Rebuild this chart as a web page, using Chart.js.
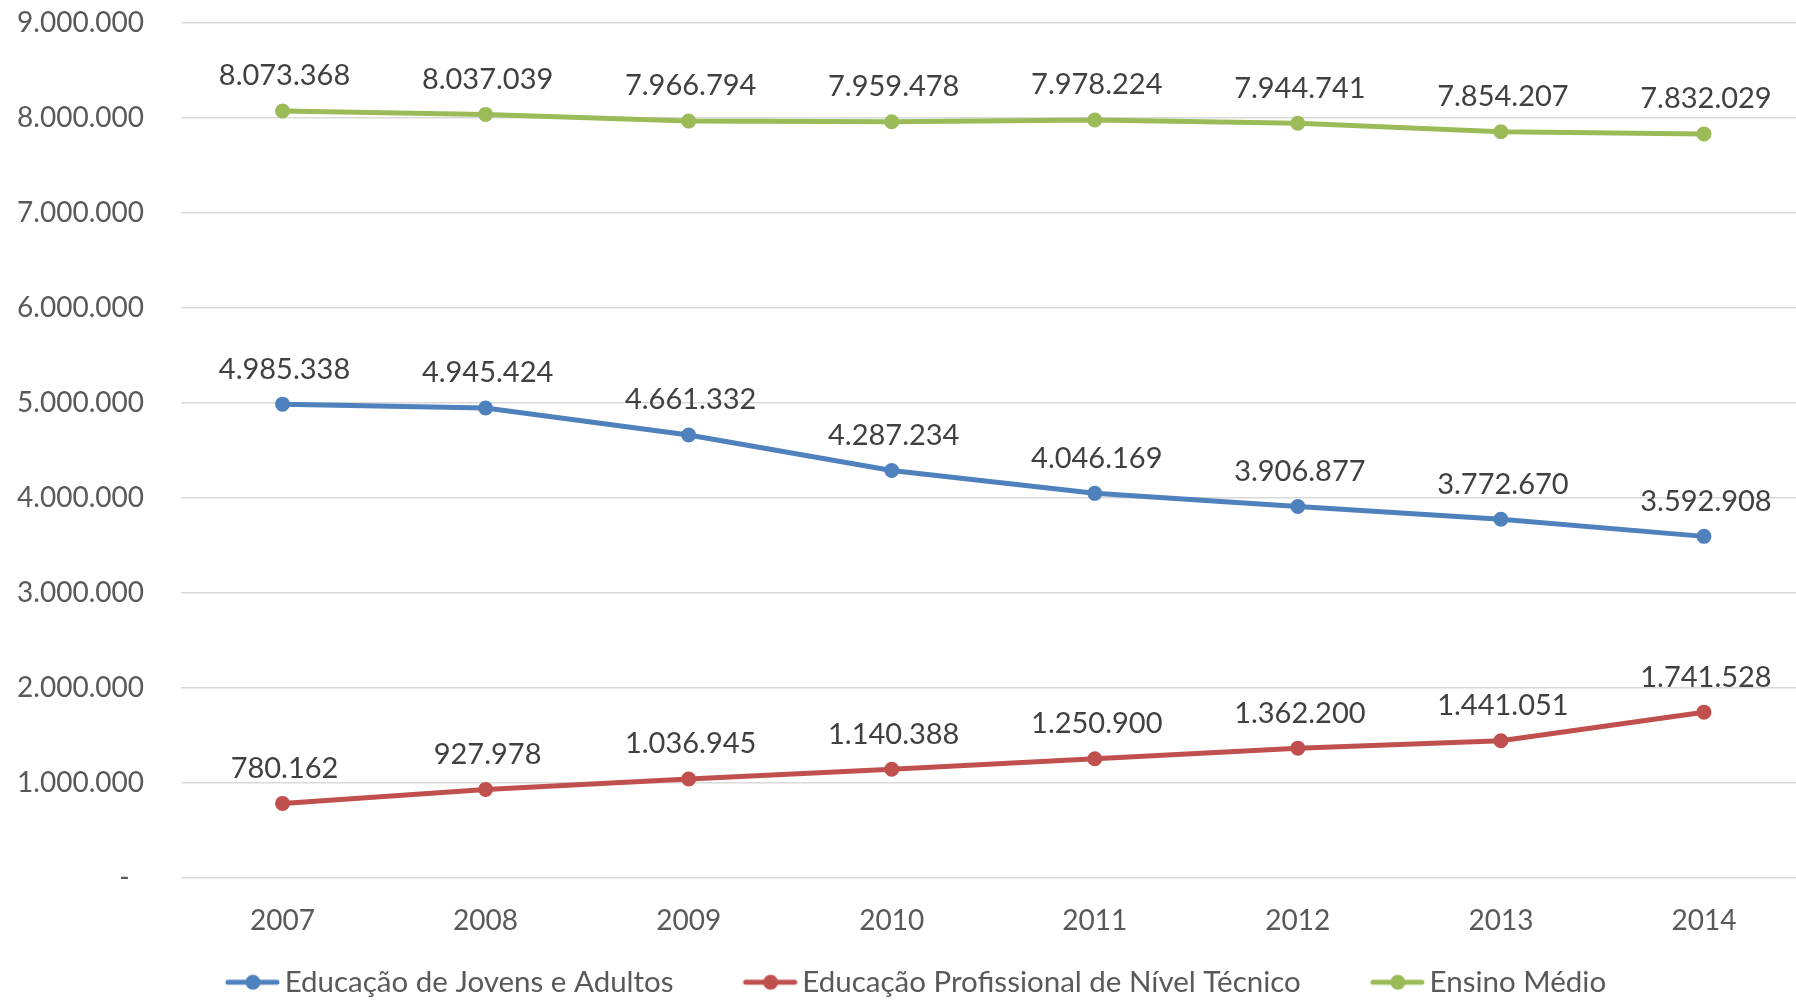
<!DOCTYPE html>
<html>
<head>
<meta charset="utf-8">
<script src="https://cdn.jsdelivr.net/npm/chart.js@4"></script>
<style>
    html, body { margin: 0; padding: 0; background: #fff; overflow: hidden; }
    #wrap { position: relative; width: 1796px; height: 1000px; overflow: hidden; }
    #chart { position: absolute; left: -48px; top: 0; }
</style>
</head>
<body>
<div id="wrap"><canvas id="chart" width="1862" height="1000"></canvas></div>
<script>
var years = ["2007", "2008", "2009", "2010", "2011", "2012", "2013", "2014"];
var jovensAdultos = [4985338, 4945424, 4661332, 4287234, 4046169, 3906877, 3772670, 3592908];
var profissionalTecnico = [780162, 927978, 1036945, 1140388, 1250900, 1362200, 1441051, 1741528];
var ensinoMedio = [8073368, 8037039, 7966794, 7959478, 7978224, 7944741, 7854207, 7832029];
var seriesNames = ["Educação de Jovens e Adultos", "Educação Profissional de Nível Técnico", "Ensino Médio"];
var seriesColors = ["#4f81bd", "#c0504d", "#9bbb59"];

function formatNumber(v) {
    return String(Math.round(v)).replace(/\B(?=(\d{3})+(?!\d))/g, ".");
}

// line + dot marker for the legend, padded on the left so items sit apart
function legendIcon(color) {
    var c = document.createElement("canvas");
    c.width = 130;
    c.height = 18;
    var ctx = c.getContext("2d");
    ctx.strokeStyle = color;
    ctx.lineWidth = 5;
    ctx.lineCap = "round";
    ctx.beginPath();
    ctx.moveTo(c.width - 52, 9);
    ctx.lineTo(c.width - 3, 9);
    ctx.stroke();
    ctx.fillStyle = color;
    ctx.beginPath();
    ctx.arc(c.width - 27, 9, 7.5, 0, Math.PI * 2);
    ctx.fill();
    return c;
}

var valueLabels = {
    id: "valueLabels",
    afterDatasetsDraw: function (chart) {
        var ctx = chart.ctx;
        ctx.save();
        ctx.font = "29px Lato";
        ctx.fillStyle = "#404040";
        ctx.textAlign = "center";
        ctx.textBaseline = "middle";
        chart.data.datasets.forEach(function (ds, i) {
            chart.getDatasetMeta(i).data.forEach(function (pt, j) {
                ctx.fillText(formatNumber(ds.data[j]), pt.x + 2, pt.y - 35);
            });
        });
        ctx.restore();
    }
};

function makeDataset(label, data, color) {
    return {
        label: label,
        data: data,
        borderColor: color,
        backgroundColor: color,
        borderWidth: 5,
        pointRadius: 6.5,
        pointBorderWidth: 2,
        pointBackgroundColor: color,
        pointBorderColor: color,
        tension: 0,
        fill: false
    };
}

Chart.defaults.font.family = "Lato";

var ctx = document.getElementById("chart").getContext("2d");
var chart = new Chart(ctx, {
    type: "line",
    data: {
        labels: years,
        datasets: [
            makeDataset(seriesNames[0], jovensAdultos, seriesColors[0]),
            makeDataset(seriesNames[1], profissionalTecnico, seriesColors[1]),
            makeDataset(seriesNames[2], ensinoMedio, seriesColors[2])
        ]
    },
    options: {
        responsive: false,
        animation: false,
        layout: { padding: { top: 23, left: 0, right: 0, bottom: -7 } },
        plugins: {
            tooltip: { enabled: false },
            legend: {
                position: "bottom",
                labels: {
                    usePointStyle: true,
                    pointStyleWidth: 110,
                    padding: 4,
                    color: "#595959",
                    font: { size: 29.5 },
                    generateLabels: function (chart) {
                        var items = Chart.defaults.plugins.legend.labels.generateLabels(chart);
                        items.forEach(function (item, i) {
                            item.pointStyle = legendIcon(seriesColors[i]);
                        });
                        return items;
                    }
                }
            }
        },
        scales: {
            x: {
                offset: true,
                grid: { display: false, drawTicks: false },
                border: { display: false },
                ticks: { color: "#595959", font: { size: 28 }, padding: 27 },
                afterFit: function (scale) { scale.height = 86; }
            },
            y: {
                min: 0,
                max: 9000000,
                grid: { color: "#d9d9d9", lineWidth: 1.4, drawTicks: false },
                border: { display: false },
                ticks: {
                    stepSize: 1000000,
                    color: "#595959",
                    font: { size: 28 },
                    padding: 37,
                    callback: function (v) { return v === 0 ? "-  " : formatNumber(v); }
                },
                afterFit: function (scale) {
                    scale.width = 229;
                    scale.paddingTop = 0;
                    scale.paddingBottom = 0;
                }
            }
        }
    },
    plugins: [valueLabels]
});
</script>
</body>
</html>
